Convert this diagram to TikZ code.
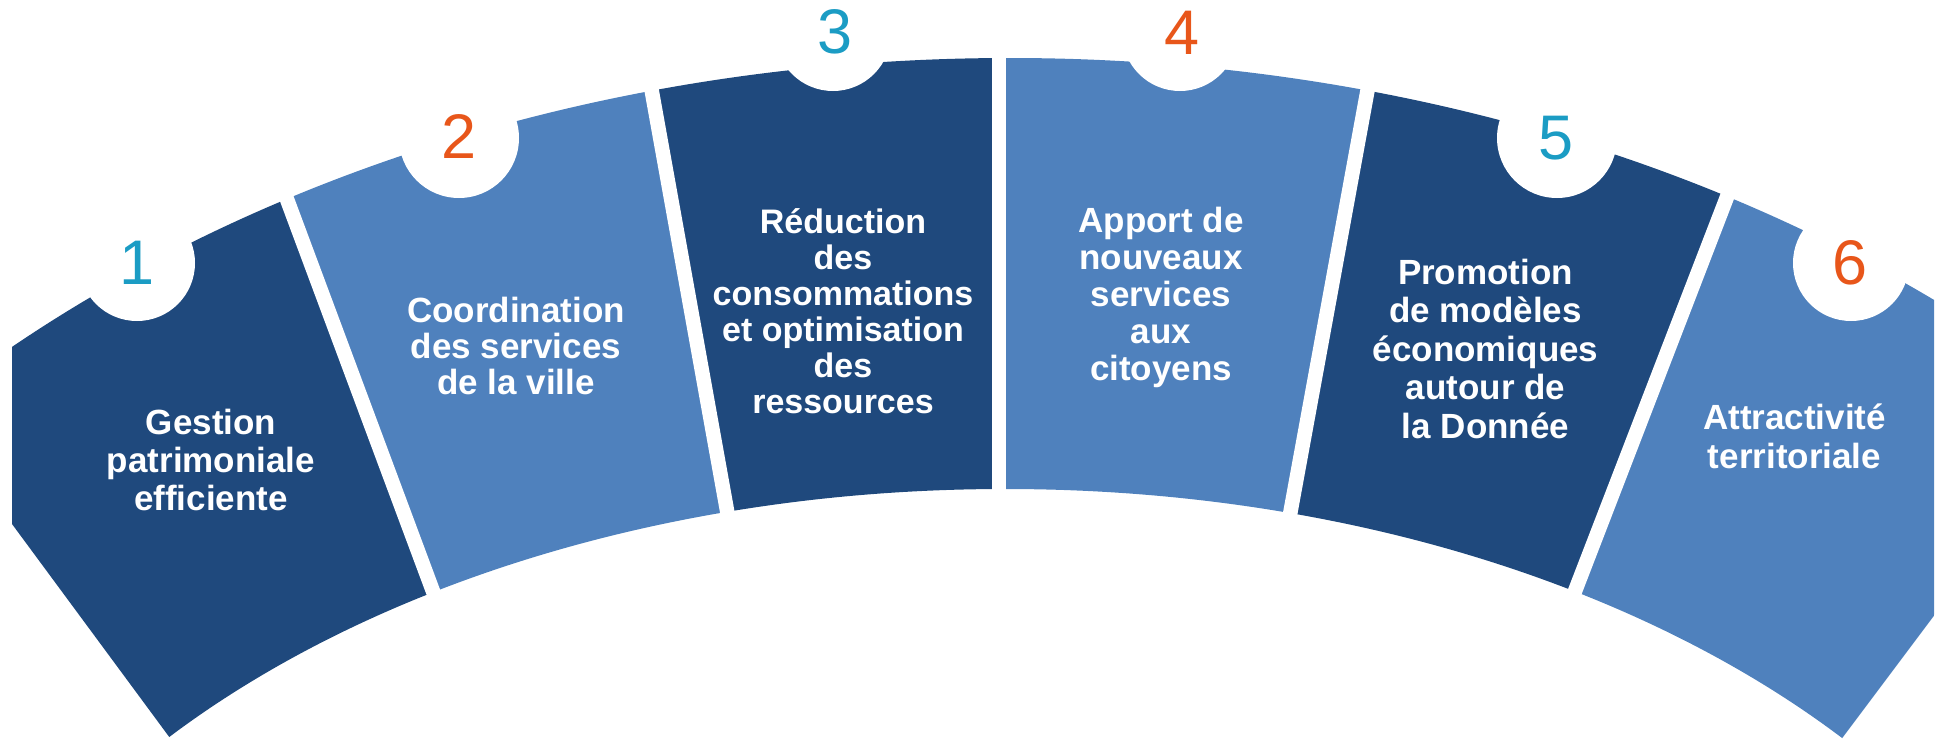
\documentclass[tikz,border=0pt]{standalone}
\usepackage{fontspec}
\setmainfont{Liberation Sans}
\usetikzlibrary{calc}
\definecolor{darkseg}{HTML}{1F497D}
\definecolor{lightseg}{HTML}{4F81BD}
\definecolor{numcyan}{HTML}{1B9CC4}
\definecolor{numorange}{HTML}{E8561A}
\newcommand\mystack[1]{\vtop{\halign{\hfil##\hfil\cr#1\crcr}}}
\begin{document}
\begin{tikzpicture}[x=1pt,y=-1pt,
  gapline/.style={white, line width=14.5pt},
  numlabel/.style={inner sep=0pt, font=\fontsize{63}{63}\selectfont},
  txt/.style={inner sep=0pt, anchor=base, text=white},
]
\useasboundingbox (0,0) rectangle (1939,744);
\coordinate (E) at (1005,1198);
\coordinate (EO) at (1010,1198);
% edge lines (top point, bottom point)
\coordinate (l1t) at (12,524);      \coordinate (l1b) at (168.3,735.7);
\coordinate (g12t) at (286.5,198);  \coordinate (g12b) at (432.5,590);
\coordinate (g23t) at (651.5,89.5); \coordinate (g23b) at (727,510.5);
\coordinate (g34t) at (999,58);     \coordinate (g34b) at (999,489);
\coordinate (g45t) at (1367.5,90.5);\coordinate (g45b) at (1290,514.5);
\coordinate (g56t) at (1727,197);   \coordinate (g56b) at (1573.5,595);
\coordinate (r6t) at (1934,615.7);  \coordinate (r6b) at (1838.3,743.3);
\def\ringpath{(EO) ellipse [x radius=1500pt, y radius=1140pt] (E) ellipse [x radius=1100pt, y radius=709pt]}
\begin{scope}
\clip (12,0) rectangle (1934,744);
% segment 1
\begin{scope}
\clip ($(l1t)!-3!(l1b)$) -- ($(g12t)!-0.3!(g12b)$) -- ($(g12t)!1.3!(g12b)$) -- ($(l1t)!1.3!(l1b)$) -- cycle;
\fill[darkseg, even odd rule] \ringpath;
\end{scope}
% segment 2
\begin{scope}
\clip ($(g12t)!-0.3!(g12b)$) -- ($(g23t)!-0.3!(g23b)$) -- ($(g23t)!1.3!(g23b)$) -- ($(g12t)!1.3!(g12b)$) -- cycle;
\fill[lightseg, even odd rule] \ringpath;
\end{scope}
% segment 3
\begin{scope}
\clip ($(g23t)!-0.3!(g23b)$) -- ($(g34t)!-0.3!(g34b)$) -- ($(g34t)!1.3!(g34b)$) -- ($(g23t)!1.3!(g23b)$) -- cycle;
\fill[darkseg, even odd rule] \ringpath;
\end{scope}
% segment 4
\begin{scope}
\clip ($(g34t)!-0.3!(g34b)$) -- ($(g45t)!-0.3!(g45b)$) -- ($(g45t)!1.3!(g45b)$) -- ($(g34t)!1.3!(g34b)$) -- cycle;
\fill[lightseg, even odd rule] \ringpath;
\end{scope}
% segment 5
\begin{scope}
\clip ($(g45t)!-0.3!(g45b)$) -- ($(g56t)!-0.3!(g56b)$) -- ($(g56t)!1.3!(g56b)$) -- ($(g45t)!1.3!(g45b)$) -- cycle;
\fill[darkseg, even odd rule] \ringpath;
\end{scope}
% segment 6
\begin{scope}
\clip ($(g56t)!-0.3!(g56b)$) -- ($(r6t)!-6!(r6b)$) -- ($(r6t)!1.3!(r6b)$) -- ($(g56t)!1.3!(g56b)$) -- cycle;
\fill[lightseg, even odd rule] \ringpath;
\end{scope}
% gaps
\foreach \g in {g12,g23,g34,g45,g56}
  \draw[gapline] ($(\g t)!-0.3!(\g b)$) -- ($(\g t)!1.3!(\g b)$);
\end{scope}
% notches
\fill[white] (137,263) circle (58pt);
\fill[white] (459,138) circle (60pt);
\fill[white] (833,33) circle (58pt);
\fill[white] (1180,33) circle (58pt);
\fill[white] (1557,138) circle (60pt);
\fill[white] (1851,263) circle (58pt);
% numbers
\node[numlabel, text=numcyan]   (n1) at (137,262.5) {1};
\node[numlabel, text=numorange] (n2) at (458.8,136.7) {2};
\node[numlabel, text=numcyan]   (n3) at (834.7,32.3) {3};
\node[numlabel, text=numorange] (n4) at (1182,33) {4};
\node[numlabel, text=numcyan]   (n5) at (1556,138) {5};
\node[numlabel, text=numorange] (n6) at (1850,263) {6};
% texts
\node[txt, font=\fontsize{35}{38}\selectfont\bfseries] (t1) at (211,434.3)
  {\mystack{Gestion\cr patrimoniale\cr efficiente}};
\node[txt, font=\fontsize{35}{36}\selectfont\bfseries] (t2) at (516,322.7)
  {\mystack{Coordination\cr des services\cr de la ville}};
\node[txt, font=\fontsize{34}{36.1}\selectfont\bfseries] (t3) at (843,233.3)
  {\mystack{Réduction\cr des\cr consommations\cr et optimisation\cr des\cr ressources}};
\node[txt, font=\fontsize{35}{37}\selectfont\bfseries] (t4) at (1161,232.6)
  {\mystack{Apport de\cr nouveaux\cr services\cr aux\cr citoyens}};
\node[txt, font=\fontsize{35}{38.5}\selectfont\bfseries] (t5) at (1485.5,284.3)
  {\mystack{Promotion\cr de modèles\cr économiques\cr autour de\cr la Donnée}};
\node[txt, font=\fontsize{35}{39}\selectfont\bfseries] (t6) at (1794.5,429.3)
  {\mystack{Attractivité\cr territoriale}};
\end{tikzpicture}
\end{document}
